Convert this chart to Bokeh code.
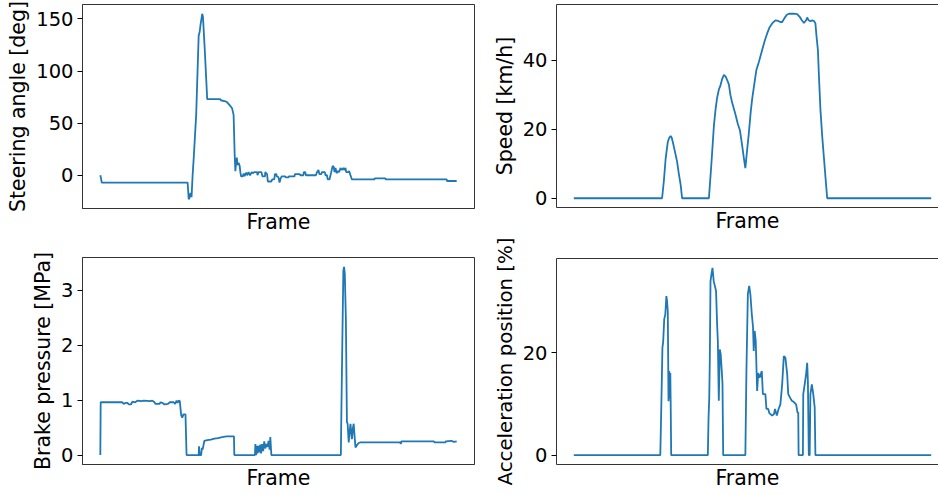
from bokeh.plotting import figure
from bokeh.layouts import row, column
from bokeh.models import Range1d, DataRange1d, FixedTicker, LinearAxis
from bokeh.embed import file_html
from bokeh.resources import INLINE

# ---------------- data (frame index, value) ----------------
steer_frame = [0, 2, 4, 245, 248, 250, 253, 256, 259, 262, 269, 276, 279, 281, 286, 288, 293, 300,
               337, 338, 351, 356, 361, 366, 370, 374, 377, 379, 381, 383, 385, 388, 391, 393, 395,
               400, 401, 404, 405, 408, 411, 412, 416, 420, 425, 428, 432, 440, 441, 444, 452, 455,
               462, 463, 468, 470, 480, 482, 488, 490, 494, 495, 500, 503, 506, 509, 519, 520, 528,
               529, 545, 546, 560, 561, 570, 571, 575, 577, 605, 608, 612, 615, 620, 622, 630, 632,
               636, 638, 643, 648, 652, 655, 657, 660, 663, 667, 670, 674, 678, 682, 685, 688, 690,
               696, 698, 702, 706, 769, 770, 800, 801, 972, 973, 1000]
steer_deg = [0, -3, -7, -7, -23, -22, -17, -21, 0, 16, 58, 134, 138, 144, 155, 152, 121, 73,
             73, 72, 71, 70, 68, 66, 64, 58, 20, 4, 12, 17, 10, 12, 9, 3, -1,
             -1, 1, 1, -1, 2, 2, 0, 3, 0, 3, 2, 3, 3, 0, 3, 3, -1,
             -1, 3, 1, -6, -6, -4, -4, 1, 1, -1, -2, -7, -3, -1, -1, -2, -2,
             -1, -1, 1, 1, 0, 0, 3, 3, 0, 0, 3, 5, 1, 1, 3, 3, 0,
             0, -4, -4, 3, 9, 8, 3, 7, 2, 4, 3, 7, 5, 7, 5, 7, 3,
             3, 4, 0, -4, -4, -3, -3, -4, -4, -5.5, -5.5]

speed_frame = [0, 247, 252, 257, 263, 267, 271, 274, 277, 283, 289, 294, 299, 303, 378, 385, 392,
               397, 401, 406, 410, 415, 420, 425, 430, 434, 438, 443, 452, 459, 465, 471, 476, 480,
               484, 490, 495, 499, 505, 511, 518, 527, 534, 541, 548, 555, 564, 572, 578, 583, 590,
               596, 602, 615, 625, 632, 638, 644, 650, 653, 657, 662, 667, 672, 676, 679, 683, 686,
               690, 695, 700, 705, 709, 1000]
speed_kmh = [0, 0, 5, 11.5, 16.3, 17.5, 18, 17.5, 16.3, 13.5, 10.6, 7, 3.9, 0, 0, 10, 21,
             26, 29.1, 31.5, 32.5, 34.5, 35.7, 35.2, 34, 32.9, 30, 27.7, 24.4, 21.5, 19.6, 15.3, 11.5, 8.7,
             13, 19.1, 25, 28.7, 33, 37.2, 39.5, 42.9, 45.5, 47.7, 49.5, 50.6, 51.5, 51.3, 51.0, 51.0, 52.2,
             53.1, 53.4, 53.4, 53.3, 52.5, 51.5, 50.7, 51.5, 52.3, 51.5, 51.2, 51.5, 51.3, 50.6, 47, 42.9, 35,
             25.8, 18, 11.5, 5, 0, 0]

brake_frame = [0, 1, 61, 66, 72, 76, 80, 86, 90, 98, 104, 115, 122, 140, 146, 152, 155, 166, 169,
               174, 180, 190, 195, 206, 210, 214, 217, 220, 223, 225, 227, 230, 233, 239, 242, 276,
               277, 279, 283, 285, 287, 292, 300, 310, 320, 330, 345, 355, 375, 376, 434, 435, 437,
               439, 441, 444, 446, 449, 451, 454, 457, 460, 463, 466, 469, 472, 475, 477, 480, 675,
               676, 679, 682, 684, 686, 689, 692, 694, 697, 700, 702, 706, 709, 711, 714, 716, 720,
               725, 730, 842, 843, 845, 936, 938, 968, 970, 985, 992, 1000]
brake_mpa = [0, 0.96, 0.96, 0.93, 0.95, 0.95, 0.92, 0.92, 0.97, 0.96, 0.99, 0.98, 0.99, 0.98, 0.99, 0.96, 0.93, 0.93, 0.96,
             0.95, 0.92, 0.93, 0.96, 0.96, 0.93, 0.99, 0.95, 0.99, 0.98, 0.85, 0.72, 0.68, 0.74, 0.74, 0, 0,
             0.16, 0, 0, 0.13, 0.1, 0.26, 0.27, 0.28, 0.30, 0.31, 0.33, 0.34, 0.34, 0, 0, 0.2, 0,
             0.17, 0.03, 0.17, 0.05, 0.19, 0.03, 0.2, 0.07, 0.25, 0.12, 0.2, 0.15, 0.26, 0.1, 0.33, 0, 0,
             0.55, 2.0, 3.35, 3.42, 3.3, 2.5, 0.6, 0.57, 0.23, 0.45, 0.57, 0.29, 0.5, 0.57, 0.3, 0.14, 0.18,
             0.22, 0.23, 0.23, 0.2, 0.25, 0.25, 0.23, 0.23, 0.25, 0.26, 0.24, 0.25]

accel_frame = [0, 242, 245, 248, 250, 253, 256, 259, 261, 263, 265, 267, 268, 270, 271, 272.5, 375,
               377, 379, 380.5, 382.5, 385, 388, 391.5, 396, 398, 401, 403, 405.7, 408.5, 411, 414,
               416, 418, 480, 483, 487, 490.7, 494, 498, 501.5, 503.4, 506, 509, 513, 516, 520, 526,
               529, 536, 539, 544, 547, 555, 560, 563, 568, 573, 578, 583, 587.6, 592, 597, 600, 605,
               610, 615, 622, 626, 628, 629, 641, 642, 646, 650, 653, 655, 657.5, 660, 662, 666, 670,
               674, 676, 1000]
accel_pct = [0, 0, 10, 21, 22, 26.5, 27.4, 31, 30, 28, 10.5, 16.4, 11, 16, 10.6, 0, 0,
             7.3, 11.2, 18.4, 33.9, 35.2, 36.5, 33.9, 32.6, 32, 25.5, 22.3, 10.6, 20.6, 19.7, 16.4,
             14, 0, 0, 16.4, 31.4, 33, 31.4, 27.5, 24.9, 20.3, 24.2, 22.3, 12.5, 16, 15.1, 16.4,
             11.9, 11.9, 9, 9, 8.2, 7.7, 8, 9, 7.7, 9, 9.9, 13.8, 19.3, 19, 15.8, 11.9, 11.2,
             10.6, 10.4, 9.9, 8.3, 8.3, 0, 0, 11.9, 13.8, 15.8, 18, 14.4, 0, 0, 11.9, 13.8, 11.9,
             9.3, 0, 0]

steer_ticks = [0, 50, 100, 150]
speed_ticks = [0, 20, 40]
brake_ticks = [0, 1, 2, 3]
accel_ticks = [0, 20]

LINE = "#1f77b4"
SPINE = "#333333"
FONT = "DejaVu Sans"


def panel(width, height, mb, x_range, xs, ys, ylabel, yticks, right_col, label_size="20.5px"):
    p = figure(width=width, height=height, output_backend="svg", toolbar_location=None, tools="",
               x_range=x_range, y_range=DataRange1d(range_padding=0.1),
               min_border_left=mb[0], min_border_right=mb[1], min_border_top=mb[2], min_border_bottom=mb[3])
    p.line(xs, ys, line_color=LINE, line_width=1.8)
    p.xgrid.visible = False
    p.ygrid.visible = False
    p.background_fill_color = "white"
    p.border_fill_color = "white"
    # x axis: no ticks, only a label
    xa = p.xaxis[0]
    xa.ticker = FixedTicker(ticks=[], minor_ticks=[])
    xa.major_tick_out = 0
    xa.major_tick_in = 0
    xa.major_label_standoff = 0
    xa.axis_label = "Frame"
    xa.axis_label_standoff = 1
    xa.axis_label_text_font = FONT
    xa.axis_label_text_font_size = "20.5px"
    xa.axis_label_text_font_style = "normal"
    xa.axis_label_text_color = "black"
    xa.axis_line_color = SPINE
    # y axis
    ya = p.yaxis[0]
    ya.ticker = FixedTicker(ticks=yticks, minor_ticks=[])
    ya.major_tick_out = 5
    ya.major_tick_in = 0
    ya.major_tick_line_color = "black"
    ya.major_label_standoff = 4
    ya.major_label_text_font = FONT
    ya.major_label_text_font_size = "19.5px"
    ya.major_label_text_color = "black"
    ya.axis_label = ylabel
    ya.axis_label_standoff = 3
    ya.axis_label_text_font = FONT
    ya.axis_label_text_font_size = label_size
    ya.axis_label_text_font_style = "normal"
    ya.axis_label_text_color = "black"
    ya.axis_line_color = SPINE
    if right_col:
        # the right edge of these panels runs off the page: no right spine
        p.outline_line_color = None
        top = LinearAxis(ticker=FixedTicker(ticks=[], minor_ticks=[]), major_tick_out=0, major_tick_in=0,
                         major_label_standoff=0, axis_line_color=SPINE)
        p.add_layout(top, "above")
    else:
        p.outline_line_color = SPINE
        p.outline_line_width = 1
        p.outline_line_alpha = 1
    return p


tl = panel(480, 236, (82, 6, 4, 26), Range1d(-50, 1050), steer_frame, steer_deg,
           "Steering angle [deg]", steer_ticks, False)
bl = panel(480, 259, (82, 6, 21, 31), Range1d(-50, 1050), brake_frame, brake_mpa,
           "Brake pressure [MPa]", brake_ticks, False)
tr = panel(458, 235, (76, 0, 4, 25), Range1d(-48.4, 1020.4), speed_frame, speed_kmh,
           "Speed [km/h]", speed_ticks, True)
br = panel(458, 260, (76, 0, 23, 31), Range1d(-48.4, 1020.4), accel_frame, accel_pct,
           "Acceleration position [%]", accel_ticks, True, label_size="19.8px")

layout = row(column(tl, bl), column(tr, br))

open("out.html", "w").write(file_html(layout, INLINE))
